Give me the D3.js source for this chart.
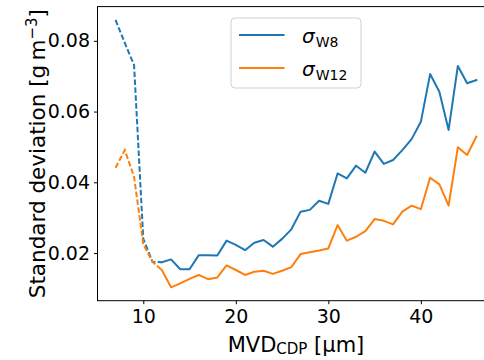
<!DOCTYPE html>
<html>
<head>
<meta charset="utf-8">
<script src="https://cdn.jsdelivr.net/npm/d3@7"></script>
<style>
  html, body { margin: 0; padding: 0; background: #fff; }
  svg { display: block; font-family: "DejaVu Sans", sans-serif; }
</style>
</head>
<body>
<svg id="chart" width="484" height="360"></svg>
<script>
// ---- data ----
const mvd = [7,8,9,10,11,12,13,14,15,16,17,18,19,20,21,22,23,24,25,26,27,28,29,30,31,32,33,34,35,36,37,38,39,40,41,42,43,44,45,46];
const sigmaW8 = [0.0859,0.0794,0.0732,0.0240,0.0175,0.0174,0.0182,0.0154,0.0154,0.0194,0.0194,0.0193,0.0235,0.0223,0.0208,0.0229,0.0237,0.0218,0.0240,0.0267,0.0317,0.0322,0.0348,0.0339,0.0425,0.0411,0.0447,0.0427,0.0487,0.0452,0.0463,0.0491,0.0522,0.0571,0.0706,0.0656,0.0548,0.0729,0.0680,0.0689];
const sigmaW12 = [0.0441,0.0491,0.0416,0.0225,0.0175,0.0152,0.0103,0.0114,0.0127,0.0138,0.0126,0.0131,0.0165,0.0152,0.0138,0.0147,0.0150,0.0141,0.0150,0.0160,0.0197,0.0202,0.0207,0.0213,0.0279,0.0235,0.0246,0.0262,0.0296,0.0291,0.0281,0.0317,0.0334,0.0324,0.0413,0.0394,0.0334,0.0499,0.0477,0.0529];
const dashedUpTo = 12;  // MVD below this drawn dashed
const xTicks = [10, 20, 30, 40];
const xTickLabels = ["10", "20", "30", "40"];
const yTicks = [0.02, 0.04, 0.06, 0.08];
const yTickLabels = ["0.02", "0.04", "0.06", "0.08"];
const seriesNames = ["W8", "W12"];
const colors = ["#1f77b4", "#ff7f0e"];

// ---- layout ----
const svg = d3.select("#chart");
const L = 97.5, R = 494.4, T = 6.6, B = 300.7;

function padded(ext) { const r = ext[1] - ext[0]; return [ext[0] - 0.05 * r, ext[1] + 0.05 * r]; }
const xExt = padded(d3.extent(mvd));
const yExt = padded(d3.extent(sigmaW8.concat(sigmaW12)));
const x = d3.scaleLinear().domain(xExt).range([L, R]);
const y = d3.scaleLinear().domain(yExt).range([B, T]);

svg.append("defs").append("clipPath").attr("id", "clip")
  .append("rect").attr("x", L).attr("y", T).attr("width", R - L).attr("height", B - T);

// ---- lines ----
const series = [sigmaW8, sigmaW12];
const line = d3.line().x(d => x(d[0])).y(d => y(d[1]));
const g = svg.append("g").attr("clip-path", "url(#clip)");
series.forEach((vals, i) => {
  const pts = mvd.map((m, j) => [m, vals[j]]);
  const dashed = pts.filter(p => p[0] <= dashedUpTo);
  const solid = pts.filter(p => p[0] >= dashedUpTo);
  g.append("path").attr("d", line(dashed)).attr("fill", "none")
    .attr("stroke", colors[i]).attr("stroke-width", 2)
    .attr("stroke-dasharray", "5.5,2.4");
  g.append("path").attr("d", line(solid)).attr("fill", "none")
    .attr("stroke", colors[i]).attr("stroke-width", 2)
    .attr("stroke-linejoin", "round").attr("stroke-linecap", "square");
});

// ---- axes ----
const xAxis = d3.axisBottom(x).tickValues(xTicks).tickFormat((d, i) => xTickLabels[i]).tickSize(3.5).tickPadding(5);
const yAxis = d3.axisLeft(y).tickValues(yTicks).tickFormat((d, i) => yTickLabels[i]).tickSize(3.5).tickPadding(4);
const gx = svg.append("g").attr("transform", `translate(0,${B})`).call(xAxis);
const gy = svg.append("g").attr("transform", `translate(${L},0)`).call(yAxis);
[gx, gy].forEach(a => {
  a.select(".domain").remove();
  a.selectAll("line").attr("stroke", "#000").attr("stroke-width", 1);
  a.selectAll("text").attr("font-size", "19px").attr("font-family", "DejaVu Sans").attr("fill", "#000");
});

// frame
svg.append("rect").attr("x", L).attr("y", T).attr("width", R - L).attr("height", B - T)
  .attr("fill", "none").attr("stroke", "#000").attr("stroke-width", 1);

// ---- axis labels ----
const xl = svg.append("text").attr("x", 296).attr("y", 351.5).attr("text-anchor", "middle")
  .attr("font-size", "21px").attr("fill", "#000");
xl.append("tspan").text("MVD");
xl.append("tspan").attr("font-size", "15px").attr("dy", 2.3).text("CDP");
xl.append("tspan").attr("dy", -2.3).text(" [µm]");

const yl = svg.append("text").attr("transform", `translate(44.5,${(T + B) / 2}) rotate(-90)`)
  .attr("text-anchor", "middle").attr("font-size", "21.5px").attr("fill", "#000");
yl.append("tspan").text("Standard deviation [g\u2009m");
yl.append("tspan").attr("font-size", "15px").attr("dy", -8).text("\u22123");
yl.append("tspan").attr("dy", 8).text("]");

// ---- legend ----
const lg = svg.append("g");
lg.append("rect").attr("x", 231).attr("y", 18).attr("width", 130).attr("height", 70).attr("rx", 4)
  .attr("fill", "#fff").attr("fill-opacity", 0.8).attr("stroke", "#d0d0d0").attr("stroke-width", 1);
seriesNames.forEach((name, i) => {
  const cy = 35 + i * 33;
  lg.append("line").attr("x1", 239).attr("x2", 284.5).attr("y1", cy).attr("y2", cy)
    .attr("stroke", colors[i]).attr("stroke-width", 2);
  const t = lg.append("text").attr("x", 302).attr("y", cy + 7.5).attr("font-size", "20px").attr("fill", "#000");
  t.append("tspan").attr("font-style", "italic").text("σ");
  t.append("tspan").attr("font-size", "14px").attr("dy", 4).attr("dx", 1).text(name);
});
</script>
</body>
</html>
